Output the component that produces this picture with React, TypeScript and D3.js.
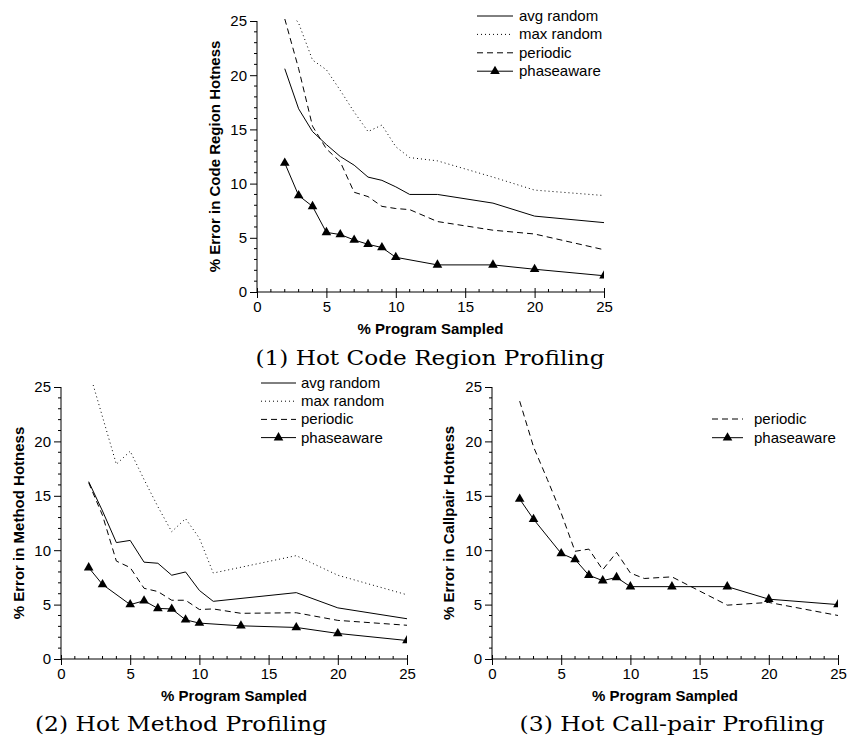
import * as d3 from 'd3';
import { useEffect, useRef } from 'react';

// ---- data ----
const xTicks = [0, 5, 10, 15, 20, 25];
const yTicks = [0, 5, 10, 15, 20, 25];

// (1) Hot Code Region Profiling
const p1X = [2, 3, 4, 5, 6, 7, 8, 9, 10, 11, 13, 17, 20, 25];
const p1AvgRandom = [20.6, 16.9, 14.8, 13.6, 12.5, 11.7, 10.6, 10.3, 9.7, 9.0, 9.0, 8.2, 7.0, 6.4];
const p1MaxRandom = [26.5, 24.8, 21.4, 20.5, 18.6, 16.6, 14.8, 15.4, 13.4, 12.4, 12.1, 10.6, 9.4, 8.9];
const p1Periodic = [25.2, 20.6, 15.3, 13.2, 12.0, 9.2, 8.8, 7.9, 7.7, 7.6, 6.5, 5.7, 5.35, 3.9];
const p1PhaseX = [2, 3, 4, 5, 6, 7, 8, 9, 10, 13, 17, 20, 25];
const p1Phaseaware = [11.9, 8.9, 7.9, 5.5, 5.3, 4.8, 4.4, 4.1, 3.2, 2.5, 2.5, 2.1, 1.5];

// (2) Hot Method Profiling
const p2AvgX = [2, 3, 4, 5, 6, 7, 8, 9, 10, 11, 17, 20, 25];
const p2AvgRandom = [16.3, 13.6, 10.7, 10.9, 8.9, 8.8, 7.7, 8.0, 6.3, 5.3, 6.1, 4.7, 3.7];
const p2MaxX = [2, 4, 5, 6, 7, 8, 9, 10, 11, 17, 20, 25];
const p2MaxRandom = [26.6, 17.9, 19.1, 16.5, 14.0, 11.7, 12.9, 11.1, 7.9, 9.5, 7.7, 5.9];
const p2PerX = [2, 3, 4, 5, 6, 7, 8, 9, 10, 11, 13, 17, 20, 25];
const p2Periodic = [16.2, 13.2, 9.0, 8.4, 6.5, 6.2, 5.4, 5.4, 4.55, 4.6, 4.2, 4.25, 3.55, 3.1];
const p2PhaseX = [2, 3, 5, 6, 7, 8, 9, 10, 13, 17, 20, 25];
const p2Phaseaware = [8.4, 6.85, 5.0, 5.35, 4.65, 4.6, 3.6, 3.3, 3.05, 2.9, 2.35, 1.7];

// (3) Hot Call-pair Profiling
const p3PerX = [2, 3, 4, 5, 6, 7, 8, 9, 10, 11, 13, 17, 20, 25];
const p3Periodic = [23.7, 19.5, 16.5, 13.4, 9.9, 10.1, 8.2, 9.8, 7.9, 7.4, 7.55, 4.95, 5.2, 4.0];
const p3PhaseX = [2, 3, 5, 6, 7, 8, 9, 10, 13, 17, 20, 25];
const p3Phaseaware = [14.7, 12.85, 9.7, 9.15, 7.7, 7.2, 7.5, 6.65, 6.65, 6.65, 5.5, 5.0];

const styles: any = {
  'avg random': { dash: null, marker: false },
  'max random': { dash: '1,3', marker: false },
  'periodic': { dash: '6,4', marker: false },
  'phaseaware': { dash: null, marker: true },
};

const zip = (xs: number[], ys: number[]) => xs.map((x, i) => ({ x, y: ys[i] }));

const SANS = "'Liberation Sans', Arial, sans-serif";
const SERIF = "'DejaVu Serif', serif";
const TRI = 40;

function drawPanel(svg: any, o: any, idx: number) {
  const x = d3.scaleLinear().domain([0, 25]).range([o.left, o.right]);
  const y = d3.scaleLinear().domain([0, 25]).range([o.bottom, o.top]);

  const clipId = 'clip' + idx;
  svg.append('clipPath').attr('id', clipId)
    .append('rect')
    .attr('x', o.left).attr('y', o.top - 2)
    .attr('width', o.right - o.left).attr('height', o.bottom - o.top + 2);

  // y axis: major ticks + minor ticks, outward
  const yAxis = d3.axisLeft(y).tickValues(yTicks).tickSize(7).tickPadding(3).tickFormat(d3.format('d'));
  const gy = svg.append('g').attr('transform', `translate(${o.left},0)`).call(yAxis);
  gy.select('.domain').attr('d', `M0,${o.top}V${o.bottom}`);
  gy.selectAll('text').style('font', `15px ${SANS}`).attr('fill', '#000');
  gy.selectAll('line').attr('stroke', '#000');
  svg.append('g').selectAll('line')
    .data(d3.range(0, 26).filter(v => v % 5 !== 0))
    .join('line')
    .attr('x1', o.left - 3).attr('x2', o.left)
    .attr('y1', d => y(d)).attr('y2', d => y(d))
    .attr('stroke', '#000');

  // x axis: major ticks crossing, minor ticks inward
  const xAxis = d3.axisBottom(x).tickValues(xTicks).tickSize(6).tickPadding(3).tickFormat(d3.format('d'));
  const gx = svg.append('g').attr('transform', `translate(0,${o.bottom})`).call(xAxis);
  gx.select('.domain').attr('d', `M${o.left},0H${o.right}`);
  gx.selectAll('text').style('font', `15px ${SANS}`).attr('fill', '#000');
  gx.selectAll('.tick line').attr('y1', -4).attr('stroke', '#000');
  svg.append('g').selectAll('line')
    .data(d3.range(0, 26).filter(v => v % 5 !== 0))
    .join('line')
    .attr('x1', d => x(d)).attr('x2', d => x(d))
    .attr('y1', o.bottom - 3).attr('y2', o.bottom)
    .attr('stroke', '#000');

  // axis titles
  svg.append('text')
    .attr('x', (o.left + o.right) / 2).attr('y', o.bottom + 42)
    .attr('text-anchor', 'middle')
    .style('font', `bold 15px ${SANS}`)
    .text('% Program Sampled');
  svg.append('text')
    .attr('transform', `translate(${o.yTitleX},${(o.top + o.bottom) / 2}) rotate(-90)`)
    .attr('text-anchor', 'middle')
    .style('font', `bold 15px ${SANS}`)
    .text(o.yTitle);

  // caption
  svg.append('text')
    .attr('x', o.capX).attr('y', o.capY)
    .attr('text-anchor', 'middle')
    .attr('textLength', o.capW)
    .attr('lengthAdjust', 'spacingAndGlyphs')
    .style('font', `21px ${SERIF}`)
    .text(o.caption);

  // series
  const line = d3.line<any>().x(d => x(d.x)).y(d => y(d.y));
  const plot = svg.append('g').attr('clip-path', `url(#${clipId})`);
  o.series.forEach((s: any) => {
    const st = styles[s.name];
    plot.append('path')
      .datum(s.data)
      .attr('d', line)
      .attr('fill', 'none')
      .attr('stroke', '#000')
      .attr('stroke-width', 1)
      .attr('stroke-dasharray', st.dash);
    if (st.marker) {
      plot.selectAll(null)
        .data(s.data)
        .join('path')
        .attr('transform', (d: any) => `translate(${x(d.x)},${y(d.y)})`)
        .attr('d', d3.symbol(d3.symbolTriangle, TRI)())
        .attr('fill', '#000');
    }
  });

  // legend
  const lg = o.legend;
  o.series.forEach((s: any, i: number) => {
    const st = styles[s.name];
    const yy = lg.y + i * lg.dy;
    svg.append('line')
      .attr('x1', lg.x1).attr('x2', lg.x2)
      .attr('y1', yy).attr('y2', yy)
      .attr('stroke', '#000')
      .attr('stroke-dasharray', st.dash);
    if (st.marker) {
      svg.append('path')
        .attr('transform', `translate(${(lg.x1 + lg.x2) / 2},${yy})`)
        .attr('d', d3.symbol(d3.symbolTriangle, TRI)())
        .attr('fill', '#000');
    }
    svg.append('text')
      .attr('x', lg.tx).attr('y', yy + 5)
      .style('font', `15px ${SANS}`)
      .text(s.name);
  });
}

export default function App() {
  const svgRef = useRef<SVGSVGElement>(null);

  useEffect(() => {
    const svg = d3.select(svgRef.current);
    svg.selectAll('*').remove();

    const panels = [
      {
        left: 257, right: 604, top: 21, bottom: 292,
        yTitle: '% Error in Code Region Hotness', yTitleX: 220,
        caption: '(1) Hot Code Region Profiling', capX: 430, capY: 365, capW: 349,
        legend: { x1: 477, x2: 513, tx: 519, y: 16, dy: 18.4 },
        series: [
          { name: 'avg random', data: zip(p1X, p1AvgRandom) },
          { name: 'max random', data: zip(p1X, p1MaxRandom) },
          { name: 'periodic', data: zip(p1X, p1Periodic) },
          { name: 'phaseaware', data: zip(p1PhaseX, p1Phaseaware) },
        ],
      },
      {
        left: 61, right: 407, top: 387, bottom: 659,
        yTitle: '% Error in Method Hotness', yTitleX: 24,
        caption: '(2) Hot Method Profiling', capX: 181, capY: 731, capW: 292,
        legend: { x1: 261, x2: 296, tx: 301, y: 383, dy: 18.2 },
        series: [
          { name: 'avg random', data: zip(p2AvgX, p2AvgRandom) },
          { name: 'max random', data: zip(p2MaxX, p2MaxRandom) },
          { name: 'periodic', data: zip(p2PerX, p2Periodic) },
          { name: 'phaseaware', data: zip(p2PhaseX, p2Phaseaware) },
        ],
      },
      {
        left: 492, right: 838, top: 387, bottom: 659,
        yTitle: '% Error in Callpair Hotness', yTitleX: 454,
        caption: '(3) Hot Call-pair Profiling', capX: 672, capY: 731, capW: 305,
        legend: { x1: 712, x2: 743, tx: 754, y: 419, dy: 18.7 },
        series: [
          { name: 'periodic', data: zip(p3PerX, p3Periodic) },
          { name: 'phaseaware', data: zip(p3PhaseX, p3Phaseaware) },
        ],
      },
    ];

    panels.forEach((p, i) => drawPanel(svg, p, i));
  });

  return (
    <svg ref={svgRef} width={847} height={738}
      style={{ position: 'absolute', left: 0, top: 0, background: '#fff' }} />
  );
}
